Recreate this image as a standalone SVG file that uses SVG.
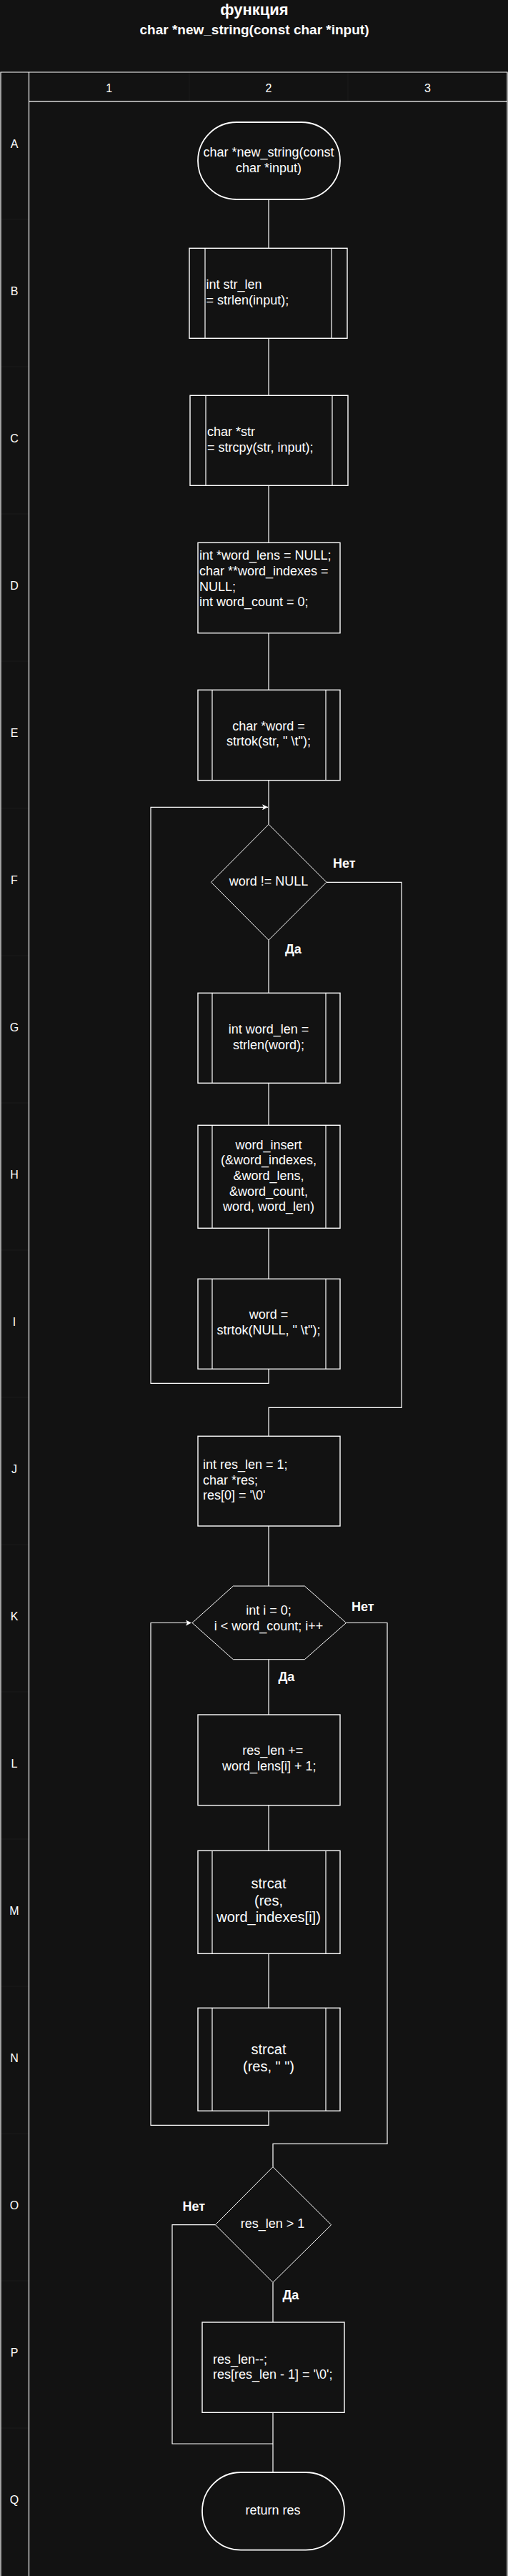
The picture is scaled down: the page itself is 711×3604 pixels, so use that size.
<svg xmlns="http://www.w3.org/2000/svg" width="711" height="3604" viewBox="0 0 711 3604">
<style>
.bg{fill:#121212}
.grid{fill:none;stroke:#ffffff;stroke-width:1.2}
.faint{fill:none;stroke:#1b1b1b;stroke-width:1}
.box{fill:#121212;stroke:#ffffff;stroke-width:1.4}
.term{fill:#121212;stroke:#ffffff;stroke-width:1.8}
.inner{fill:none;stroke:#ffffff;stroke-width:1.2}
.dec{fill:#121212;stroke:#ffffff;stroke-width:1}
.edge{fill:none;stroke:#ffffff;stroke-width:1.2}
text{font-family:"Liberation Sans",Arial,sans-serif;fill:#ffffff}
.t{font-size:18px}
.t20{font-size:20px}
.c{text-anchor:middle}
.lbl{font-size:18px;font-weight:bold}
.hdr{font-size:16px;text-anchor:middle}
</style>
<defs>
<marker id="arr" markerWidth="10" markerHeight="8" refX="8" refY="4" orient="auto" markerUnits="userSpaceOnUse">
<path d="M0,0 L8,4 L0,8 L2,4 Z" fill="#ffffff"/>
</marker>
</defs>
<rect class="bg" x="0" y="0" width="711" height="3604"/>

<g id="title">
<text x="356" y="20.5" class="c" style="font-size:22px;font-weight:bold">функция</text>
<text x="356" y="48.3" class="c" style="font-size:19px;font-weight:bold">char *new_string(const char *input)</text>
</g>

<g id="grid">
<path class="faint" d="M265 101.5 V141.7 M487 101.5 V141.7"/>
<path class="faint" d="M1 307 H40.5 M1 513 H40.5 M1 719 H40.5 M1 925 H40.5 M1 1131 H40.5 M1 1337 H40.5 M1 1543 H40.5 M1 1749 H40.5 M1 1955 H40.5 M1 2161 H40.5 M1 2367 H40.5 M1 2573 H40.5 M1 2779 H40.5 M1 2985 H40.5 M1 3191 H40.5 M1 3397 H40.5"/>
<path class="grid" d="M1 3604 V101 H710 V3604 M40.5 101 V3604 M40.5 141.7 H710"/>
<text class="hdr" x="152.7" y="129">1</text>
<text class="hdr" x="376" y="129">2</text>
<text class="hdr" x="598.5" y="129">3</text>
<text class="hdr" x="20" y="206.7">A</text>
<text class="hdr" x="20" y="412.7">B</text>
<text class="hdr" x="20" y="618.7">C</text>
<text class="hdr" x="20" y="824.7">D</text>
<text class="hdr" x="20" y="1030.7">E</text>
<text class="hdr" x="20" y="1236.7">F</text>
<text class="hdr" x="20" y="1442.7">G</text>
<text class="hdr" x="20" y="1648.7">H</text>
<text class="hdr" x="20" y="1854.7">I</text>
<text class="hdr" x="20" y="2060.7">J</text>
<text class="hdr" x="20" y="2266.7">K</text>
<text class="hdr" x="20" y="2472.7">L</text>
<text class="hdr" x="20" y="2678.7">M</text>
<text class="hdr" x="20" y="2884.7">N</text>
<text class="hdr" x="20" y="3090.7">O</text>
<text class="hdr" x="20" y="3296.7">P</text>
<text class="hdr" x="20" y="3502.7">Q</text>
</g>

<g id="connectors">
<path class="edge" d="M376 279 V347.3"/>
<path class="edge" d="M376 473.3 V553.3"/>
<path class="edge" d="M376 679.3 V759.3"/>
<path class="edge" d="M376 885.7 V965.3"/>
<path class="edge" d="M376 1091.7 V1153.3"/>
<path class="edge" d="M376 1915.3 V1935.3 H211 V1129.3 H375" marker-end="url(#arr)"/>
<path class="edge" d="M376 1315.3 V1389.3"/>
<path class="edge" d="M376 1515.3 V1574.3"/>
<path class="edge" d="M376 1718.3 V1789.3"/>
<path class="edge" d="M457 1234.3 H562 V1969.3 H376 V2009.3"/>
<path class="edge" d="M376 2135 V2219"/>
<path class="edge" d="M376 2321.7 V2399"/>
<path class="edge" d="M376 2525.7 V2589.3"/>
<path class="edge" d="M376 2733.3 V2809.3"/>
<path class="edge" d="M376 2953.3 V2973.3 H211 V2270.5 H268" marker-end="url(#arr)"/>
<path class="edge" d="M484.5 2270.5 H542 V2999.3 H382 V3031.7"/>
<path class="edge" d="M382 3193.3 V3249"/>
<path class="edge" d="M382 3375.3 V3459"/>
<path class="edge" d="M301.4 3112.7 H241 V3419 H382"/>
<text class="lbl" x="466" y="1214">Нет</text>
<text class="lbl" x="399" y="1334">Да</text>
<text class="lbl" x="492" y="2253.5">Нет</text>
<text class="lbl" x="389.5" y="2352.3">Да</text>
<text class="lbl" x="255.5" y="3093.3">Нет</text>
<text class="lbl" x="395.5" y="3217.3">Да</text>
</g>

<g id="nodeA">
<rect class="term" x="277" y="171" width="199" height="108" rx="54" ry="54"/>
<text class="t c" x="376" y="219">char *new_string(const</text>
<text class="t c" x="376" y="240.7">char *input)</text>
</g>

<g id="nodeB">
<rect class="box" x="265" y="347.3" width="221" height="126"/>
<path class="inner" d="M287 347.3 V473.3 M464 347.3 V473.3"/>
<text class="t" x="288.6" y="404">int str_len</text>
<text class="t" x="288.6" y="425.7">= strlen(input);</text>
</g>

<g id="nodeC">
<rect class="box" x="266" y="553.3" width="221" height="126"/>
<path class="inner" d="M288 553.3 V679.3 M465 553.3 V679.3"/>
<text class="t" x="290" y="610">char *str</text>
<text class="t" x="290" y="631.7">= strcpy(str, input);</text>
</g>

<g id="nodeD">
<rect class="box" x="277" y="759.3" width="199" height="126.4"/>
<text class="t" x="279" y="783.3">int *word_lens = NULL;</text>
<text class="t" x="279" y="805">char **word_indexes =</text>
<text class="t" x="279" y="826.7">NULL;</text>
<text class="t" x="279" y="848.3">int word_count = 0;</text>
</g>

<g id="nodeE">
<rect class="box" x="277" y="965.3" width="199" height="126.4"/>
<path class="inner" d="M297 965.3 V1091.7 M456 965.3 V1091.7"/>
<text class="t c" x="376" y="1021.7">char *word =</text>
<text class="t c" x="376" y="1043.3">strtok(str, " \t");</text>
</g>

<g id="nodeF">
<polygon class="dec" points="376,1153.3 457,1234.3 376,1315.3 295.5,1234.3"/>
<text class="t c" x="376" y="1238.5">word != NULL</text>
</g>

<g id="nodeG">
<rect class="box" x="277" y="1389.3" width="199" height="126"/>
<path class="inner" d="M297 1389.3 V1515.3 M456 1389.3 V1515.3"/>
<text class="t c" x="376" y="1446">int word_len =</text>
<text class="t c" x="376" y="1467.7">strlen(word);</text>
</g>

<g id="nodeH">
<rect class="box" x="277" y="1574.3" width="199" height="144"/>
<path class="inner" d="M297 1574.3 V1718.3 M456 1574.3 V1718.3"/>
<text class="t c" x="376" y="1607.7">word_insert</text>
<text class="t c" x="376" y="1629.3">(&amp;word_indexes,</text>
<text class="t c" x="376" y="1651">&amp;word_lens,</text>
<text class="t c" x="376" y="1672.7">&amp;word_count,</text>
<text class="t c" x="376" y="1694.3">word, word_len)</text>
</g>

<g id="nodeI">
<rect class="box" x="277" y="1789.3" width="199" height="126"/>
<path class="inner" d="M297 1789.3 V1915.3 M456 1789.3 V1915.3"/>
<text class="t c" x="376" y="1845">word =</text>
<text class="t c" x="376" y="1866.7">strtok(NULL, " \t");</text>
</g>

<g id="nodeJ">
<rect class="box" x="277" y="2009.3" width="199" height="125.7"/>
<text class="t" x="284" y="2055">int res_len = 1;</text>
<text class="t" x="284" y="2076.7">char *res;</text>
<text class="t" x="284" y="2098.3">res[0] = '\0'</text>
</g>

<g id="nodeK">
<polygon class="dec" points="326.4,2219 426.4,2219 484.5,2270.5 426.4,2321.7 326.4,2321.7 269,2270.5"/>
<text class="t c" x="376" y="2259.3">int i = 0;</text>
<text class="t c" x="376" y="2281">i &lt; word_count; i++</text>
</g>

<g id="nodeL">
<rect class="box" x="277" y="2399" width="199" height="126.7"/>
<text class="t c" x="381.7" y="2455">res_len +=</text>
<text class="t c" x="376.7" y="2477">word_lens[i] + 1;</text>
</g>

<g id="nodeM">
<rect class="box" x="277" y="2589.3" width="199" height="144"/>
<path class="inner" d="M297 2589.3 V2733.3 M456 2589.3 V2733.3"/>
<text class="t20 c" x="376" y="2641.7">strcat</text>
<text class="t20 c" x="376" y="2665.7">(res,</text>
<text class="t20 c" x="376" y="2689.3">word_indexes[i])</text>
</g>

<g id="nodeN">
<rect class="box" x="277" y="2809.3" width="199" height="144"/>
<path class="inner" d="M297 2809.3 V2953.3 M456 2809.3 V2953.3"/>
<text class="t20 c" x="376" y="2874">strcat</text>
<text class="t20 c" x="376" y="2898.3">(res, " ")</text>
</g>

<g id="nodeO">
<polygon class="dec" points="382,3031.7 463.6,3112.7 382,3193.3 301.4,3112.7"/>
<text class="t c" x="381.5" y="3117">res_len &gt; 1</text>
</g>

<g id="nodeP">
<rect class="box" x="283" y="3249" width="199" height="126.3"/>
<text class="t" x="298" y="3306.7">res_len--;</text>
<text class="t" x="298" y="3328.3">res[res_len - 1] = '\0';</text>
</g>

<g id="nodeQ">
<rect class="term" x="283" y="3459" width="199" height="108.7" rx="54" ry="54"/>
<text class="t c" x="382" y="3517.7">return res</text>
</g>
</svg>
